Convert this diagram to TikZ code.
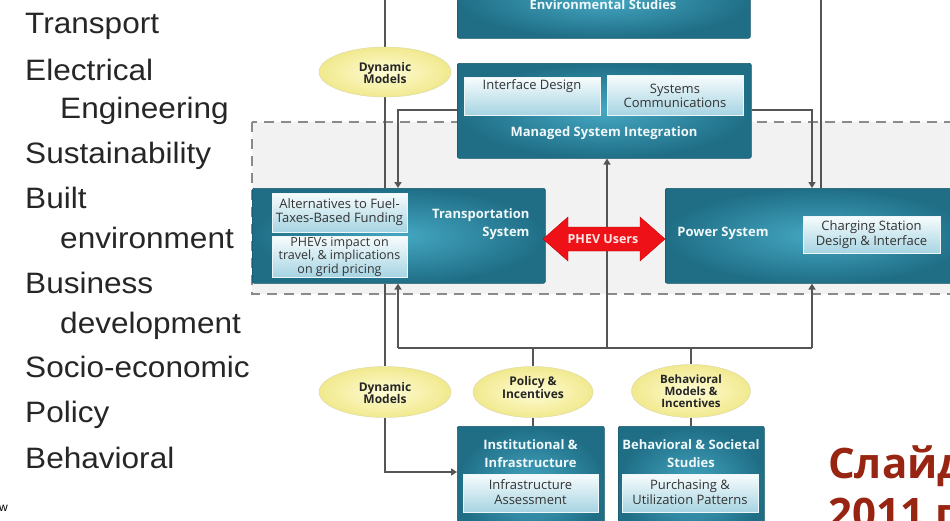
\documentclass[tikz,border=0pt]{standalone}
\usepackage{fontspec}
\setmainfont{Liberation Sans}
\newfontfamily\listfont[FakeStretch=1.07]{Liberation Sans}
\newfontfamily\boxfont{Open Sans}
\usetikzlibrary{shapes.geometric,arrows.meta}
\pgfdeclarelayer{back}
\pgfdeclarelayer{mid}
\pgfsetlayers{back,mid,main}
\definecolor{tealA}{HTML}{1F6E86}
\definecolor{tealB}{HTML}{45A7C2}
\definecolor{tealD}{HTML}{17566A}
\definecolor{lblT}{HTML}{F7FCFD}
\definecolor{lblB}{HTML}{A6D4E2}
\definecolor{ellI}{HTML}{FFFCD6}
\definecolor{ellO}{HTML}{F1E98E}
\definecolor{conn}{HTML}{555555}
\definecolor{rured}{HTML}{982512}
\definecolor{dashc}{HTML}{8A8A8A}
\definecolor{dashf}{HTML}{F2F2F2}
\definecolor{phevred}{HTML}{EE1218}
\tikzset{
  tealbox/.style={rounded corners=2pt, inner color=tealB, outer color=tealA, draw=tealD, line width=0.6pt, inner sep=0pt, anchor=north west},
  lblbox/.style={top color=lblT, bottom color=lblB, draw=white!80!lblB, line width=0.5pt, inner sep=0pt, anchor=north west},
  ell/.style={ellipse, inner color=ellI, outer color=ellO, draw=ellO!80!black!60, line width=0.4pt, inner sep=0pt},
  elltext/.style={font=\boxfont\bfseries\fontsize{12}{12.5}\selectfont, align=center, text=black!85},
  ttl/.style={font=\boxfont\bfseries\fontsize{13}{18}\selectfont, text=white!92!tealB, align=center},
  lbltext/.style={font=\boxfont\fontsize{13}{15.5}\selectfont, text=black!80, align=center},
  listtext/.style={anchor=base west, font=\listfont\fontsize{29.5}{34}\selectfont, text=black!85, inner sep=0pt},
  cline/.style={draw=conn, line width=2.5pt},
  carrow/.style={cline, -{Triangle[length=6pt,width=7pt]}},
}
\begin{document}
\begin{tikzpicture}[x=1pt,y=-1pt]
\useasboundingbox (0,0) rectangle (950,520);
\clip (0,0) rectangle (950,520);

% left list
\node[listtext] (l1) at (25,33) {Transport};
\node[listtext] (l2) at (25,80) {Electrical};
\node[listtext] (l3) at (60,118) {Engineering};
\node[listtext] (l4) at (25,163) {Sustainability};
\node[listtext] (l5) at (25,208) {Built};
\node[listtext] (l6) at (60,248) {environment};
\node[listtext] (l7) at (25,293) {Business};
\node[listtext] (l8) at (60,333) {development};
\node[listtext] (l9) at (25,377) {Socio-economic};
\node[listtext] (l10) at (25,422) {Policy};
\node[listtext] (l11) at (25,468) {Behavioral};
\node[anchor=base west, font=\fontsize{12}{14}\selectfont, inner sep=0pt] (lw) at (-1,511) {w};

% dashed region
\begin{pgfonlayer}{back}
\draw[dashc, fill=dashf, line width=2.2pt, dash pattern=on 10pt off 7pt] (252,122) rectangle (975,294);
\end{pgfonlayer}

% coordinates
\coordinate (topL) at (385,0);
\coordinate (topR) at (821,0);

% boxes
\node[tealbox, minimum width=293pt, minimum height=78pt] (env) at (457,-40) {};
\node[ttl] (envt) at (603,5) {Environmental Studies};

\node[tealbox, minimum width=294pt, minimum height=95pt] (msi) at (457,63) {};
\node[lblbox, minimum width=136pt, minimum height=38pt] (ifd) at (464,77) {};
\node[lbltext] (ifdt) at (532,86) {Interface Design};
\node[lblbox, minimum width=136pt, minimum height=40pt] (sysc) at (607,75) {};
\node[lbltext] (sysct) at (675,96) {Systems\\[-1pt]Communications};
\node[ttl] (msit) at (604,133) {Managed System Integration};

\node[tealbox, minimum width=293pt, minimum height=95pt] (trans) at (252,188) {};
\node[lblbox, minimum width=135pt, minimum height=39pt] (alt) at (272,193) {};
\node[lbltext] (altt) at (339.5,212) {Alternatives to Fuel-\\[-1pt]Taxes-Based Funding};
\node[lblbox, minimum width=135pt, minimum height=41pt] (phb) at (272,236) {};
\node[lbltext, font=\boxfont\fontsize{12.5}{11.3}\selectfont] (phbt) at (339.5,256.5) {PHEVs impact on\\travel, \& implications\\on grid pricing};
\node[ttl, align=right, anchor=east] (transt) at (533,224) {Transportation\\System};

\node[tealbox, minimum width=305pt, minimum height=95pt] (power) at (665,188) {};
\node[ttl] (powert) at (723,233) {Power System};
\node[lblbox, minimum width=137pt, minimum height=37pt] (chg) at (803,216) {};
\node[lbltext] (chgt) at (871.5,234.5) {Charging Station\\[-1pt]Design \& Interface};

% PHEV double arrow
\fill[phevred, draw=red!75!black, line width=0.4pt] (543,239) -- (568,217) -- (568,227) -- (640,227) -- (640,217) -- (665,239) -- (640,261) -- (640,251) -- (568,251) -- (568,261) -- cycle;
\node[font=\boxfont\bfseries\fontsize{12.5}{13}\selectfont, text=white!90!red] (phev) at (603,239) {PHEV Users};

% bottom boxes
\node[tealbox, minimum width=147pt, minimum height=120pt] (inst) at (457,426) {};
\node[ttl] (instt) at (530.5,454) {Institutional \&\\Infrastructure};
\node[lblbox, minimum width=135pt, minimum height=38pt] (infa) at (463,474) {};
\node[lbltext] (infat) at (530.5,492) {Infrastructure\\[-1pt]Assessment};

\node[tealbox, minimum width=146pt, minimum height=120pt] (beh) at (618,426) {};
\node[ttl] (beht) at (691,454) {Behavioral \& Societal\\Studies};
\node[lblbox, minimum width=136pt, minimum height=38pt] (pur) at (622,474) {};
\node[lbltext] (purt) at (690,492) {Purchasing \&\\[-1pt]Utilization Patterns};

% ellipses
\node[ell, minimum width=132pt, minimum height=50pt] (dm1) at (385,72) {};
\node[elltext] (dm1t) at (385,73) {Dynamic\\Models};
\node[ell, minimum width=132pt, minimum height=51pt] (dm2) at (385,392) {};
\node[elltext] (dm2t) at (385,393) {Dynamic\\Models};
\node[ell, minimum width=120pt, minimum height=51pt] (pol) at (533,392) {};
\node[elltext, font=\boxfont\bfseries\fontsize{12}{10.5}\selectfont] (polt) at (533,387) {Policy \&\\Incentives};
\node[ell, minimum width=119pt, minimum height=53pt] (bmi) at (691,391) {};
\node[elltext, font=\boxfont\bfseries\fontsize{11.5}{12}\selectfont] (bmit) at (691,391) {Behavioral\\Models \&\\Incentives};

% connectors, behind the boxes
\coordinate (hL) at (398,348);
\coordinate (hR) at (812,348);
\coordinate (hM) at (607,348);
\coordinate (dmc) at (385,472);
\begin{pgfonlayer}{mid}
\draw[cline] (topL) -- (dm1.north);
\draw[cline] (dm1.south) -- (dm1.south |- trans.north);
\draw[carrow] (msi.west |- 0,110) -| (398,188);
\draw[carrow] (msi.east |- 0,110) -| (812,188);
\draw[cline] (topR) -- (topR |- power.north);
\draw[cline] (dm1.south |- trans.south) -- (dm2.north);
\draw[carrow] (dm2.south) -- (dmc) -- (inst.west |- dmc);
\draw[cline] (hL) -- (hR);
\draw[carrow] (hL) -- (hL |- trans.south);
\draw[carrow] (hR) -- (hR |- power.south);
\draw[carrow] (hM) -- (hM |- msi.south);
\draw[cline] (pol.north |- hL) -- (pol.north);
\draw[cline] (pol.south) -- (pol.south |- inst.north);
\draw[cline] (bmi.north |- hL) -- (bmi.north);
\draw[cline] (bmi.south) -- (bmi.south |- beh.north);
\end{pgfonlayer}

% Russian text
\node[anchor=base west, inner sep=0pt, font=\boxfont\bfseries\fontsize{42}{50}\selectfont, text=rured] (ru1) at (828,478) {Слайд};
\node[anchor=base west, inner sep=0pt, font=\boxfont\bfseries\fontsize{42}{50}\selectfont, text=rured] (ru2) at (828,528) {2011 г};
\end{tikzpicture}
\end{document}
